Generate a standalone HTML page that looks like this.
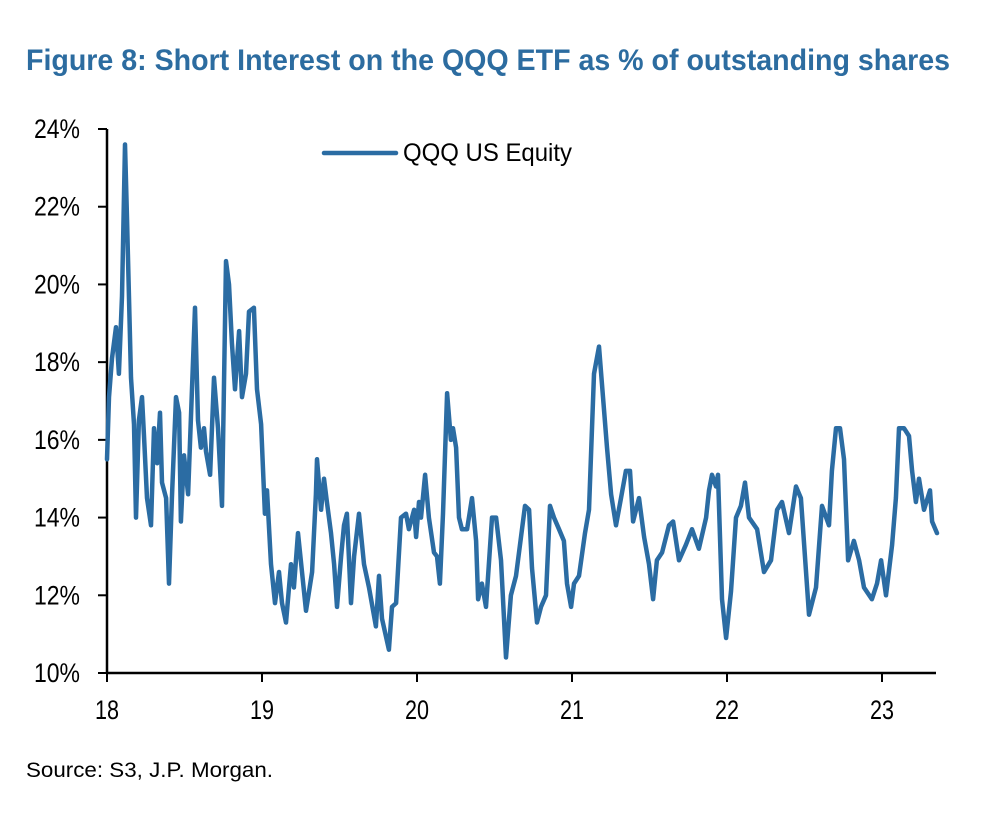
<!DOCTYPE html>
<html><head><meta charset="utf-8"><style>
body{margin:0;background:#fff;}
svg{display:block;font-family:"Liberation Sans",Arial,sans-serif;}
</style></head><body>
<svg id="chart" width="984" height="822" viewBox="0 0 984 822">
<text x="26" y="70" font-size="30" font-weight="bold" fill="#2c6ca0" textLength="924" lengthAdjust="spacingAndGlyphs">Figure 8: Short Interest on the QQQ ETF as % of outstanding shares</text>
<g id="axes"></g>
<g id="series"></g>
<g>
<line x1="324" y1="153" x2="396" y2="153" stroke="#2b6ca3" stroke-width="4.5" stroke-linecap="round"/>
<text x="403" y="161" font-size="25" fill="#000" textLength="169" lengthAdjust="spacingAndGlyphs">QQQ US Equity</text>
</g>
<text x="26" y="777" font-size="21" fill="#000" textLength="247" lengthAdjust="spacingAndGlyphs">Source: S3, J.P. Morgan.</text>
</svg>
<script>
const yTicks=[10,12,14,16,18,20,22,24];
const xTicks=[18,19,20,21,22,23];
const dates=[18.0,18.013,18.032,18.058,18.077,18.097,18.116,18.129,18.155,18.174,18.187,18.206,18.226,18.239,18.258,18.284,18.303,18.323,18.342,18.355,18.381,18.4,18.419,18.445,18.465,18.477,18.497,18.523,18.568,18.587,18.606,18.626,18.639,18.665,18.69,18.716,18.742,18.768,18.787,18.806,18.826,18.852,18.871,18.897,18.916,18.948,18.968,18.994,19.019,19.032,19.058,19.084,19.11,19.129,19.155,19.187,19.206,19.232,19.284,19.323,19.348,19.355,19.381,19.4,19.419,19.445,19.465,19.484,19.51,19.529,19.548,19.574,19.594,19.626,19.658,19.69,19.735,19.755,19.774,19.819,19.839,19.865,19.897,19.929,19.948,19.981,19.994,20.013,20.026,20.052,20.077,20.11,20.129,20.148,20.168,20.194,20.219,20.232,20.252,20.271,20.29,20.323,20.355,20.381,20.394,20.419,20.445,20.484,20.51,20.542,20.574,20.606,20.639,20.671,20.697,20.723,20.742,20.774,20.8,20.832,20.858,20.884,20.916,20.948,20.968,20.994,21.013,21.045,21.084,21.11,21.142,21.174,21.2,21.226,21.252,21.284,21.316,21.348,21.374,21.394,21.432,21.465,21.497,21.523,21.548,21.581,21.626,21.652,21.69,21.735,21.774,21.819,21.865,21.884,21.903,21.929,21.942,21.968,21.994,22.026,22.058,22.09,22.116,22.142,22.194,22.239,22.284,22.323,22.355,22.4,22.445,22.477,22.529,22.574,22.613,22.658,22.677,22.703,22.729,22.755,22.781,22.819,22.852,22.884,22.935,22.968,22.994,23.026,23.065,23.09,23.11,23.142,23.174,23.194,23.219,23.239,23.271,23.31,23.323,23.355];
const values=[15.5,17.1,18.1,18.9,17.7,19.7,23.6,21.7,17.6,16.4,14.0,16.5,17.1,16.1,14.5,13.8,16.3,15.4,16.7,14.9,14.5,12.3,14.5,17.1,16.7,13.9,15.6,14.6,19.4,16.5,15.8,16.3,15.7,15.1,17.6,16.3,14.3,20.6,20.0,18.5,17.3,18.8,17.1,17.7,19.3,19.4,17.3,16.4,14.1,14.7,12.8,11.8,12.6,11.8,11.3,12.8,12.2,13.6,11.6,12.6,14.6,15.5,14.2,15.0,14.4,13.6,12.8,11.7,13.0,13.8,14.1,11.8,13.0,14.1,12.8,12.2,11.2,12.5,11.4,10.6,11.7,11.8,14.0,14.1,13.7,14.2,13.5,14.4,14.0,15.1,14.0,13.1,13.0,12.3,14.1,17.2,16.0,16.3,15.8,14.0,13.7,13.7,14.5,13.4,11.9,12.3,11.7,14.0,14.0,12.9,10.4,12.0,12.5,13.5,14.3,14.2,12.7,11.3,11.7,12.0,14.3,14.0,13.7,13.4,12.3,11.7,12.3,12.5,13.6,14.2,17.7,18.4,17.1,15.8,14.6,13.8,14.5,15.2,15.2,13.9,14.5,13.5,12.8,11.9,12.9,13.1,13.8,13.9,12.9,13.3,13.7,13.2,14.0,14.7,15.1,14.8,15.1,11.9,10.9,12.1,14.0,14.3,14.9,14.0,13.7,12.6,12.9,14.2,14.4,13.6,14.8,14.5,11.5,12.2,14.3,13.8,15.2,16.3,16.3,15.5,12.9,13.4,12.9,12.2,11.9,12.3,12.9,12.0,13.3,14.5,16.3,16.3,16.1,15.2,14.4,15.0,14.2,14.7,13.9,13.6];

const NS='http://www.w3.org/2000/svg';
const X0=107,X1=936,Y0=673,Y1=129;
function xs(d){return X0+(d-18)*155;}
function ys(v){return Y0-(v-10)*(Y0-Y1)/14;}
const axes=document.getElementById('axes');
function mk(tag,attrs,parent){const e=document.createElementNS(NS,tag);for(const k in attrs)e.setAttribute(k,attrs[k]);parent.appendChild(e);return e;}
const yAxis=mk('line',{x1:X0,y1:Y1,x2:X0,y2:Y0,stroke:'#000','stroke-width':2.5},axes);


const xAxis=mk('line',{x1:X0,y1:Y0,x2:X1,y2:Y0,stroke:'#000','stroke-width':2.5},axes);


yTicks.forEach(v=>{
  const t=mk('line',{x1:X0-9,y1:ys(v),x2:X0,y2:ys(v),stroke:'#000','stroke-width':2},axes);
  
  
  const l=mk('text',{x:80,y:ys(v)+9,'font-size':27,'text-anchor':'end',fill:'#000',textLength:46,lengthAdjust:'spacingAndGlyphs'},axes);
  l.textContent=v+'%';
  
  
});
xTicks.forEach(d=>{
  const t=mk('line',{x1:xs(d),y1:Y0,x2:xs(d),y2:Y0+9,stroke:'#000','stroke-width':2},axes);
  
  
  const l=mk('text',{x:xs(d),y:719,'font-size':27,'text-anchor':'middle',fill:'#000',textLength:24,lengthAdjust:'spacingAndGlyphs'},axes);
  l.textContent=String(d);
  
  
});
const pts=dates.map((d,i)=>xs(d).toFixed(1)+','+ys(values[i]).toFixed(1)).join(' ');
const line=mk('polyline',{points:pts,fill:'none',stroke:'#2b6ca3','stroke-width':4.5,'stroke-linejoin':'round','stroke-linecap':'round'},document.getElementById('series'));


</script>
</body></html>
